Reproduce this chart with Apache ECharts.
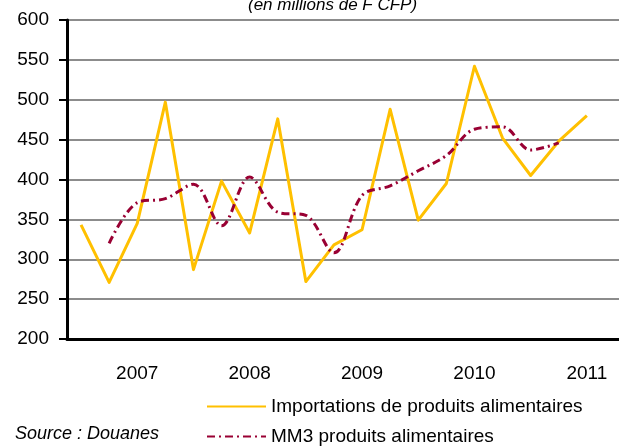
<!DOCTYPE html>
<html>
<head>
<meta charset="utf-8">
<script src="https://cdn.jsdelivr.net/npm/echarts@6/dist/echarts.min.js"></script>
<style>
  html, body { margin: 0; padding: 0; background: #fff; }
  #chart { width: 619px; height: 446px; }
</style>
</head>
<body>
<div id="chart"></div>
<script>
// trimestres 2007 T1 .. 2011 T4
const quarters = [
  '2007T1', '2007T2', '2007T3', '2007T4',
  '2008T1', '2008T2', '2008T3', '2008T4',
  '2009T1', '2009T2', '2009T3', '2009T4',
  '2010T1', '2010T2', '2010T3', '2010T4',
  '2011T1', '2011T2', '2011T3', '2011T4'
]
const yearLabels = ['2007', '2008', '2009', '2010', '2011']

// importations (en millions de F CFP)
const importations = [343, 271, 345, 497, 287, 398, 333, 476, 272, 318, 337, 488, 349, 395, 542, 452, 405, 448, 480, null]
// moyenne mobile 3 trimestres
const mm3 = [null, 320, 371, 376, 394, 342, 403, 359, 355, 308, 380, 392, 411, 430, 463, 466, 437, 446, null, null]

const yTicks = { min: 200, max: 600, interval: 50 }

const FONT = '"Liberation Sans", Arial, sans-serif'

const chart = echarts.init(document.getElementById('chart'))

const legendText = { fontFamily: FONT, fontSize: 19, color: '#000' }

const option = {
  animation: false,
  title: [
    {
      text: '(en millions de F CFP)',
      left: 243,
      top: -8,
      textStyle: { fontFamily: FONT, fontStyle: 'italic', fontWeight: 'normal', fontSize: 17, color: '#000' }
    },
    {
      text: 'Source : Douanes',
      left: 10,
      top: 420,
      textStyle: { fontFamily: FONT, fontStyle: 'italic', fontWeight: 'normal', fontSize: 18, color: '#000' }
    }
  ],
  legend: [
    {
      left: 201,
      top: 392,
      itemWidth: 59,
      itemHeight: 10,
      itemStyle: { opacity: 0 },
      textStyle: legendText,
      data: ['Importations de produits alimentaires']
    },
    {
      left: 201,
      top: 422,
      itemWidth: 59,
      itemHeight: 10,
      itemStyle: { opacity: 0 },
      textStyle: legendText,
      data: ['MM3 produits alimentaires']
    }
  ],
  grid: { left: 67, top: 20, width: 562, bottom: 107, outerBoundsMode: 'none' },
  xAxis: {
    type: 'category',
    data: quarters,
    boundaryGap: true,
    axisLine: { lineStyle: { color: '#000', width: 3 } },
    axisTick: { interval: 3, length: 7, lineStyle: { color: '#000', width: 2 } },
    axisLabel: {
      interval: 0,
      margin: 25,
      fontFamily: FONT,
      fontSize: 19,
      color: '#000',
      formatter: (v, i) => (i % 4 === 2 ? yearLabels[(i - 2) / 4] : '')
    },
    splitLine: { show: false }
  },
  yAxis: {
    type: 'value',
    min: yTicks.min,
    max: yTicks.max,
    interval: yTicks.interval,
    axisLine: { show: true, lineStyle: { color: '#000', width: 3 } },
    axisTick: { show: true, length: 8, lineStyle: { color: '#000', width: 2 } },
    axisLabel: { margin: 18, fontFamily: FONT, fontSize: 19, color: '#000' },
    splitLine: { lineStyle: { color: '#8c8c8c', width: 2 } }
  },
  series: [
    {
      name: 'Importations de produits alimentaires',
      type: 'line',
      data: importations,
      symbol: 'none',
      itemStyle: { color: '#FFC000' },
      lineStyle: { color: '#FFC000', width: 3, join: 'round' }
    },
    {
      name: 'MM3 produits alimentaires',
      type: 'line',
      data: mm3,
      symbol: 'none',
      smooth: 0.35,
      itemStyle: { color: '#990033' },
      lineStyle: { color: '#990033', width: 3, type: [8, 4, 2, 4] }
    }
  ]
}

chart.setOption(option)
</script>
</body>
</html>
